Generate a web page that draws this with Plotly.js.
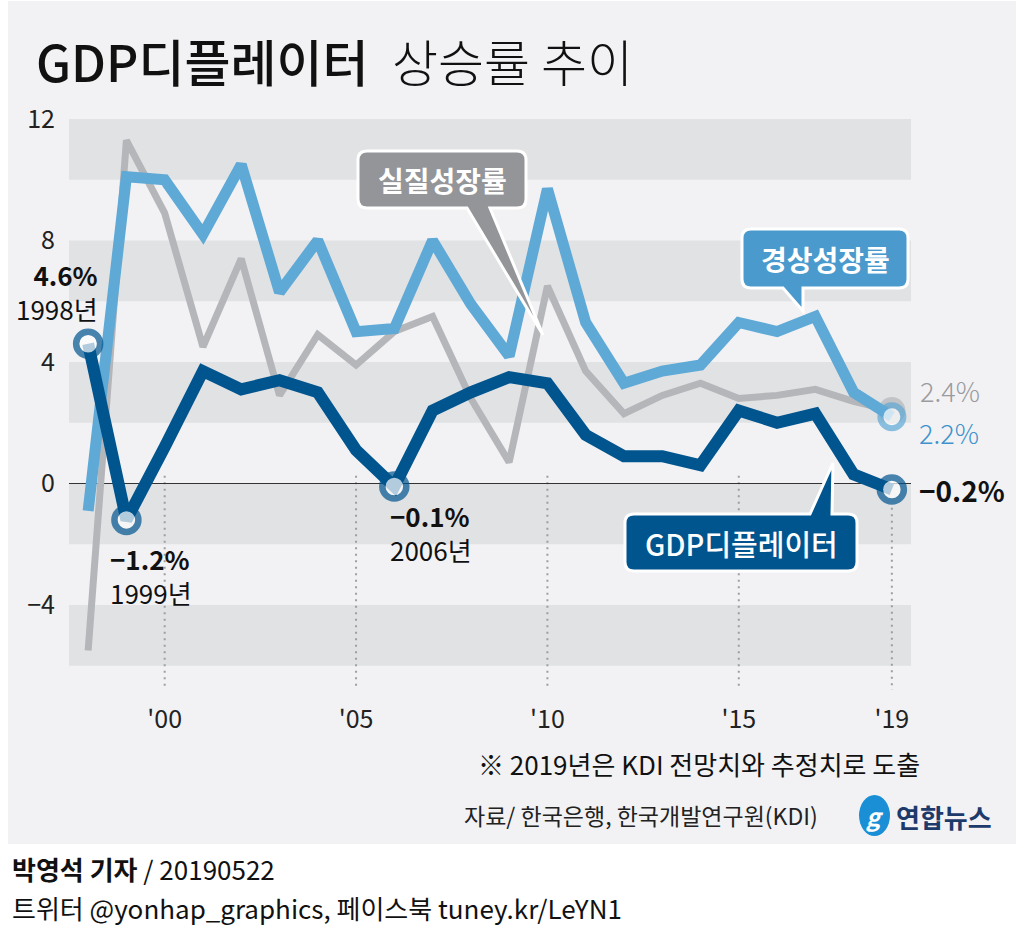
<!DOCTYPE html>
<html>
<head>
<meta charset="utf-8">
<script src="https://cdn.plot.ly/plotly-3.0.1.min.js"></script>
<style>html,body{margin:0;padding:0;background:#fff;}#chart{width:1017px;height:947px;}</style>
</head>
<body>
<div id="chart"></div>
<script>
// ---- data ----
const years = [1998,1999,2000,2001,2002,2003,2004,2005,2006,2007,2008,2009,2010,2011,2012,2013,2014,2015,2016,2017,2018,2019];
const realGrowth = [-5.5,11.3,8.9,4.5,7.4,2.9,4.9,3.9,5.0,5.5,2.8,0.7,6.5,3.7,2.3,2.9,3.3,2.8,2.9,3.1,2.7,2.4];
const nominalGrowth = [-0.9,10.1,10.0,8.2,10.5,6.3,8.0,5.0,5.1,8.0,5.9,4.2,9.7,5.3,3.3,3.7,3.9,5.3,5.0,5.5,3.0,2.2];
const deflator = [4.6,-1.2,1.2,3.7,3.1,3.4,3.0,1.1,-0.1,2.4,3.0,3.5,3.3,1.6,0.9,0.9,0.6,2.4,2.0,2.3,0.3,-0.2];
const xTickVals = [2000,2005,2010,2015,2019];
const xTickText = ["'00","'05","'10","'15","'19"];
const yTickVals = [12,8,4,0,-4];
const yTickText = ["12","8","4","0","\u22124"];
const bandRanges = [[10,12],[6,8],[2,4],[-2,0],[-6,-4]];
const highlightYears = [1998,1999,2006,2019];

const KR = "Noto Sans CJK KR, Noto Sans, sans-serif";
const NUM = "Liberation Sans Narrow, Noto Sans CJK KR, sans-serif";
const DARK = "#00558f", LIGHT = "#5fa9d6", GREY = "#b5b6b9";

// pixel -> paper helpers (plot area: x 69..911, y 119..690)
const L=69, R=911, T=119, B=690;
const px = v => (v-L)/(R-L);
const py = v => (B-v)/(B-T);

function bubble(x0,y0,x1,y1,r,ta,tb,tipx,tipy,side){
  const P=(x,y)=>px(x).toFixed(5)+','+py(y).toFixed(5);
  let d='M'+P(x0+r,y0);
  if(side==='top'){ d+=' L'+P(ta,y0)+' L'+P(tipx,tipy)+' L'+P(tb,y0); }
  d+=' L'+P(x1-r,y0)+' Q'+P(x1,y0)+' '+P(x1,y0+r);
  d+=' L'+P(x1,y1-r)+' Q'+P(x1,y1)+' '+P(x1-r,y1);
  if(side==='bottom'){ d+=' L'+P(tb,y1)+' L'+P(tipx,tipy)+' L'+P(ta,y1); }
  d+=' L'+P(x0+r,y1)+' Q'+P(x0,y1)+' '+P(x0,y1-r);
  d+=' L'+P(x0,y0+r)+' Q'+P(x0,y0)+' '+P(x0+r,y0)+' Z';
  return d;
}

const lastIdx = years.length-1;
const traces = [
  {x:years, y:realGrowth, type:'scatter', mode:'lines+markers', hoverinfo:'skip',
   line:{color:GREY, width:7},
   marker:{size:years.map((y,i)=>i===lastIdx?27:0), color:GREY, line:{width:0}}},
  {x:years, y:nominalGrowth, type:'scatter', mode:'lines+markers', hoverinfo:'skip',
   line:{color:LIGHT, width:11},
   marker:{size:years.map((y,i)=>i===lastIdx?23:0), color:'#ffffff', line:{color:LIGHT, width:years.map((y,i)=>i===lastIdx?6:0)}}},
  {x:years, y:deflator, type:'scatter', mode:'lines+markers', hoverinfo:'skip',
   line:{color:DARK, width:12},
   marker:{size:years.map(y=>highlightYears.includes(y)?24:0), color:'#ffffff', line:{color:DARK, width:years.map(y=>highlightYears.includes(y)?6.5:0)}}}
];

const shapes = [];
// panel background
shapes.push({type:'rect', xref:'paper', yref:'paper', x0:px(8), x1:px(1016), y0:py(844), y1:py(1), fillcolor:'#f2f2f4', line:{width:0}, layer:'below'});
bandRanges.forEach(b=>shapes.push({type:'rect', xref:'x', yref:'y', x0:1997.5, x1:2019.5, y0:b[0], y1:b[1], fillcolor:'#e1e2e4', line:{width:0}, layer:'below'}));
// dotted guide lines
xTickVals.forEach(v=>{
  const idx = years.indexOf(v);
  shapes.push({type:'line', xref:'x', yref:'y', x0:v, x1:v, y0:Math.min(deflator[idx]-0.6,0.25), y1:-6.8, line:{color:'#9d9ea0', width:2, dash:'2px,4.5px'}, layer:'below'});
});
// callouts
shapes.push({type:'path', xref:'paper', yref:'paper', path:bubble(358,151,526,208,9,467,490,543,335,'bottom'), fillcolor:'#939598', line:{color:'#fff', width:3}, layer:'above'});
shapes.push({type:'path', xref:'paper', yref:'paper', path:bubble(742,229,908,288,9,783,803,803,311,'bottom'), fillcolor:'#4a9acd', line:{color:'#fff', width:3}, layer:'above'});
shapes.push({type:'path', xref:'paper', yref:'paper', path:bubble(625,514,857,571,9,810,832,833,463,'top'), fillcolor:DARK, line:{color:'#fff', width:3}, layer:'above'});
// logo icon
shapes.push({type:'circle', xref:'paper', yref:'paper', x0:px(859), x1:px(890), y0:py(836), y1:py(795), fillcolor:'#1a8fd5', line:{width:0}});

function ann(text,x,y,size,color,opts){
  return Object.assign({xref:'paper', yref:'paper', x:px(x), y:py(y), text:text, showarrow:false,
    xanchor:'center', yanchor:'middle', font:{family:KR, size:size, color:color}}, opts||{});
}
const annotations = [
  ann('GDP디플레이터', 34, 60, 50, '#111', {xanchor:'left', font:{family:KR, size:50, color:'#111', weight:500}}),
  ann('상승률 추이', 390, 60, 50, '#111', {xanchor:'left', font:{family:KR, size:50, color:'#111', weight:300}}),
  ann('<b>4.6%</b><br>1998년', 100, 291, 26, '#111', {xanchor:'right', align:'right'}),
  ann('<b>\u22121.2%</b><br>1999년', 108, 575, 26, '#111', {xanchor:'left', align:'left'}),
  ann('<b>\u22120.1%</b><br>2006년', 388, 532, 26, '#111', {xanchor:'left', align:'left'}),
  ann('<b>\u22120.2%</b>', 917, 490, 28, '#111', {xanchor:'left'}),
  ann('2.4%', 918, 390, 27, '#9a9b9e', {xanchor:'left', font:{family:KR, size:27, color:'#9a9b9e', weight:300}}),
  ann('2.2%', 917, 432, 27, '#3f92cc', {xanchor:'left', font:{family:KR, size:27, color:'#3f92cc', weight:300}}),
  ann('<b>실질성장률</b>', 442, 180, 28, '#fff'),
  ann('<b>경상성장률</b>', 825, 259, 28, '#fff'),
  ann('GDP디플레이터', 741, 543, 29, '#fff', {font:{family:KR, size:29, color:'#fff', weight:500}}),
  ann('※ 2019년은 KDI 전망치와 추정치로 도출', 922, 763, 26, '#111', {xanchor:'right'}),
  ann('자료/ 한국은행, 한국개발연구원(KDI)', 820, 815, 23, '#222', {xanchor:'right'}),
  ann('<b><i>g</i></b>', 874, 815, 24, '#fff'),
  ann('<b>연합뉴스</b>', 894, 816, 26, '#1d3a6b', {xanchor:'left'}),
  ann('<b>박영석 기자</b> / 20190522', 10, 868, 26, '#111', {xanchor:'left'}),
  ann('트위터 @yonhap_graphics, 페이스북 tuney.kr/LeYN1', 10, 907, 26, '#111', {xanchor:'left'})
];

const layout = {
  width:1017, height:947,
  margin:{l:L, r:1017-R, t:T, b:947-B, pad:0},
  paper_bgcolor:'#ffffff', plot_bgcolor:'rgba(0,0,0,0)',
  showlegend:false,
  xaxis:{range:[1997.5,2019.5], showgrid:false, zeroline:false, showline:false, ticks:'',
    tickmode:'array', tickvals:xTickVals, ticktext:xTickText, ticklabelstandoff:12,
    tickfont:{family:NUM, size:25, color:'#222'}, fixedrange:true},
  yaxis:{range:[-6.8,12], showgrid:false, zeroline:true, zerolinecolor:'#333', zerolinewidth:1.5,
    showline:false, ticks:'', tickmode:'array', tickvals:yTickVals, ticktext:yTickText, ticklabelstandoff:13,
    tickfont:{family:NUM, size:25, color:'#222'}, fixedrange:true},
  shapes:shapes,
  annotations:annotations
};
Plotly.newPlot('chart', traces, layout, {staticPlot:true, displayModeBar:false});
</script>
</body>
</html>
